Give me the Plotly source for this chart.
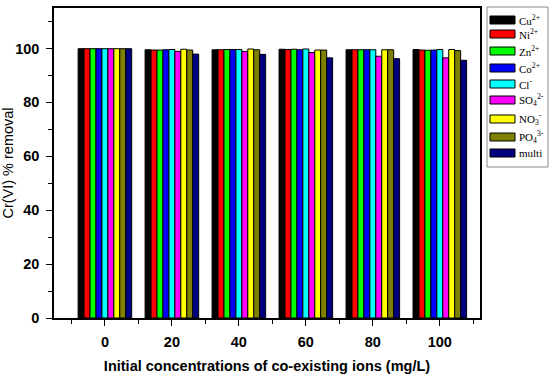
import plotly.graph_objects as go

concentrations = [0, 20, 40, 60, 80, 100]
ion_names = ["Cu<sup>2+</sup>", "Ni<sup>2+</sup>", "Zn<sup>2+</sup>", "Co<sup>2+</sup>",
             "Cl<sup>-</sup>", "SO<sub>4</sub><sup>2-</sup>", "NO<sub>3</sub><sup>-</sup>",
             "PO<sub>4</sub><sup>3-</sup>", "multi"]
colors = ["#000000", "#ff0000", "#00ff00", "#0000ff", "#00ffff", "#ff00ff",
          "#ffff00", "#808000", "#000080"]

cu = [99.9, 99.5, 99.5, 99.7, 99.5, 99.6]
ni = [99.9, 99.4, 99.5, 99.6, 99.5, 99.4]
zn = [99.9, 99.4, 99.6, 99.7, 99.5, 99.3]
co = [99.9, 99.5, 99.6, 99.5, 99.5, 99.4]
cl = [99.9, 99.6, 99.6, 99.8, 99.5, 99.6]
so4 = [99.9, 98.9, 98.9, 98.5, 97.1, 96.5]
no3 = [99.9, 99.7, 99.8, 99.4, 99.5, 99.6]
po4 = [99.9, 99.4, 99.5, 99.4, 99.5, 99.2]
multi = [99.9, 97.9, 97.8, 96.5, 96.2, 95.6]

series = [cu, ni, zn, co, cl, so4, no3, po4, multi]

W, H = 550, 378
ML, MR, MT, MB = 54, 70, 8, 60
PW, PH = W - ML - MR, H - MT - MB


def px_x(p):
    return (p - ML) / PW


def px_y(p):
    return (H - MB - p) / PH


fig = go.Figure()
for name, vals, col in zip(ion_names, series, colors):
    fig.add_trace(go.Bar(
        x=concentrations, y=vals, name=name, showlegend=False,
        marker=dict(color=col, line=dict(color="black", width=1)),
    ))

# custom legend (wide swatches like the original)
legend_rows = [20, 34, 51, 68, 84, 100, 119, 137, 153]
shapes = [dict(type="rect", xref="paper", yref="paper",
               x0=px_x(487), x1=px_x(548), y0=px_y(7), y1=px_y(167),
               line=dict(color="#888888", width=1), fillcolor="white", layer="below")]
annotations = []
for name, col, ry in zip(ion_names, colors, legend_rows):
    shapes.append(dict(type="rect", xref="paper", yref="paper",
                       x0=px_x(490), x1=px_x(515), y0=px_y(ry + 4), y1=px_y(ry - 4),
                       line=dict(color="black", width=1), fillcolor=col))
    annotations.append(dict(xref="paper", yref="paper", x=px_x(517), y=px_y(ry),
                            xanchor="left", yanchor="middle", showarrow=False,
                            text=name,
                            font=dict(family="Liberation Serif, Times New Roman",
                                      size=11, color="black")))

axis_font = dict(family="Liberation Sans, Arial", size=14.5, color="black")
tick_font = dict(family="Liberation Sans, Arial", size=14.5, color="black", weight="bold")

fig.update_layout(
    width=W, height=H,
    margin=dict(l=ML, r=MR, t=MT, b=MB),
    paper_bgcolor="white", plot_bgcolor="white",
    barmode="group", bargap=0.2, bargroupgap=0,
    showlegend=False,
    shapes=shapes, annotations=annotations,
    xaxis=dict(
        range=[-15.2, 112], showgrid=False, zeroline=False, automargin=False,
        showline=True, linecolor="black", linewidth=1.5, mirror=True,
        tickmode="array", tickvals=concentrations,
        ticks="outside", ticklen=6, tickwidth=1.2, tickcolor="black",
        minor=dict(tickvals=[-10, 10, 30, 50, 70, 90, 110], ticks="outside",
                   ticklen=4, tickwidth=1.2, tickcolor="black"),
        tickfont=tick_font, ticklabelstandoff=4,
        title=dict(text="<b>Initial concentrations of co-existing ions (mg/L)</b>",
                   font=axis_font, standoff=12),
    ),
    yaxis=dict(
        range=[0, 115], showgrid=False, zeroline=False, automargin=False,
        showline=True, linecolor="black", linewidth=1.5, mirror=True,
        tickmode="array", tickvals=[0, 20, 40, 60, 80, 100],
        ticks="outside", ticklen=6, tickwidth=1.2, tickcolor="black",
        minor=dict(tickvals=[10, 30, 50, 70, 90, 110], ticks="outside",
                   ticklen=4, tickwidth=1.2, tickcolor="black"),
        tickfont=tick_font, ticklabelstandoff=4,
        title=dict(text="Cr(VI) % removal", font=axis_font, standoff=6),
    ),
)

fig.write_html("out.html", config={"displayModeBar": False},
               post_script="document.body.style.margin='0';")
